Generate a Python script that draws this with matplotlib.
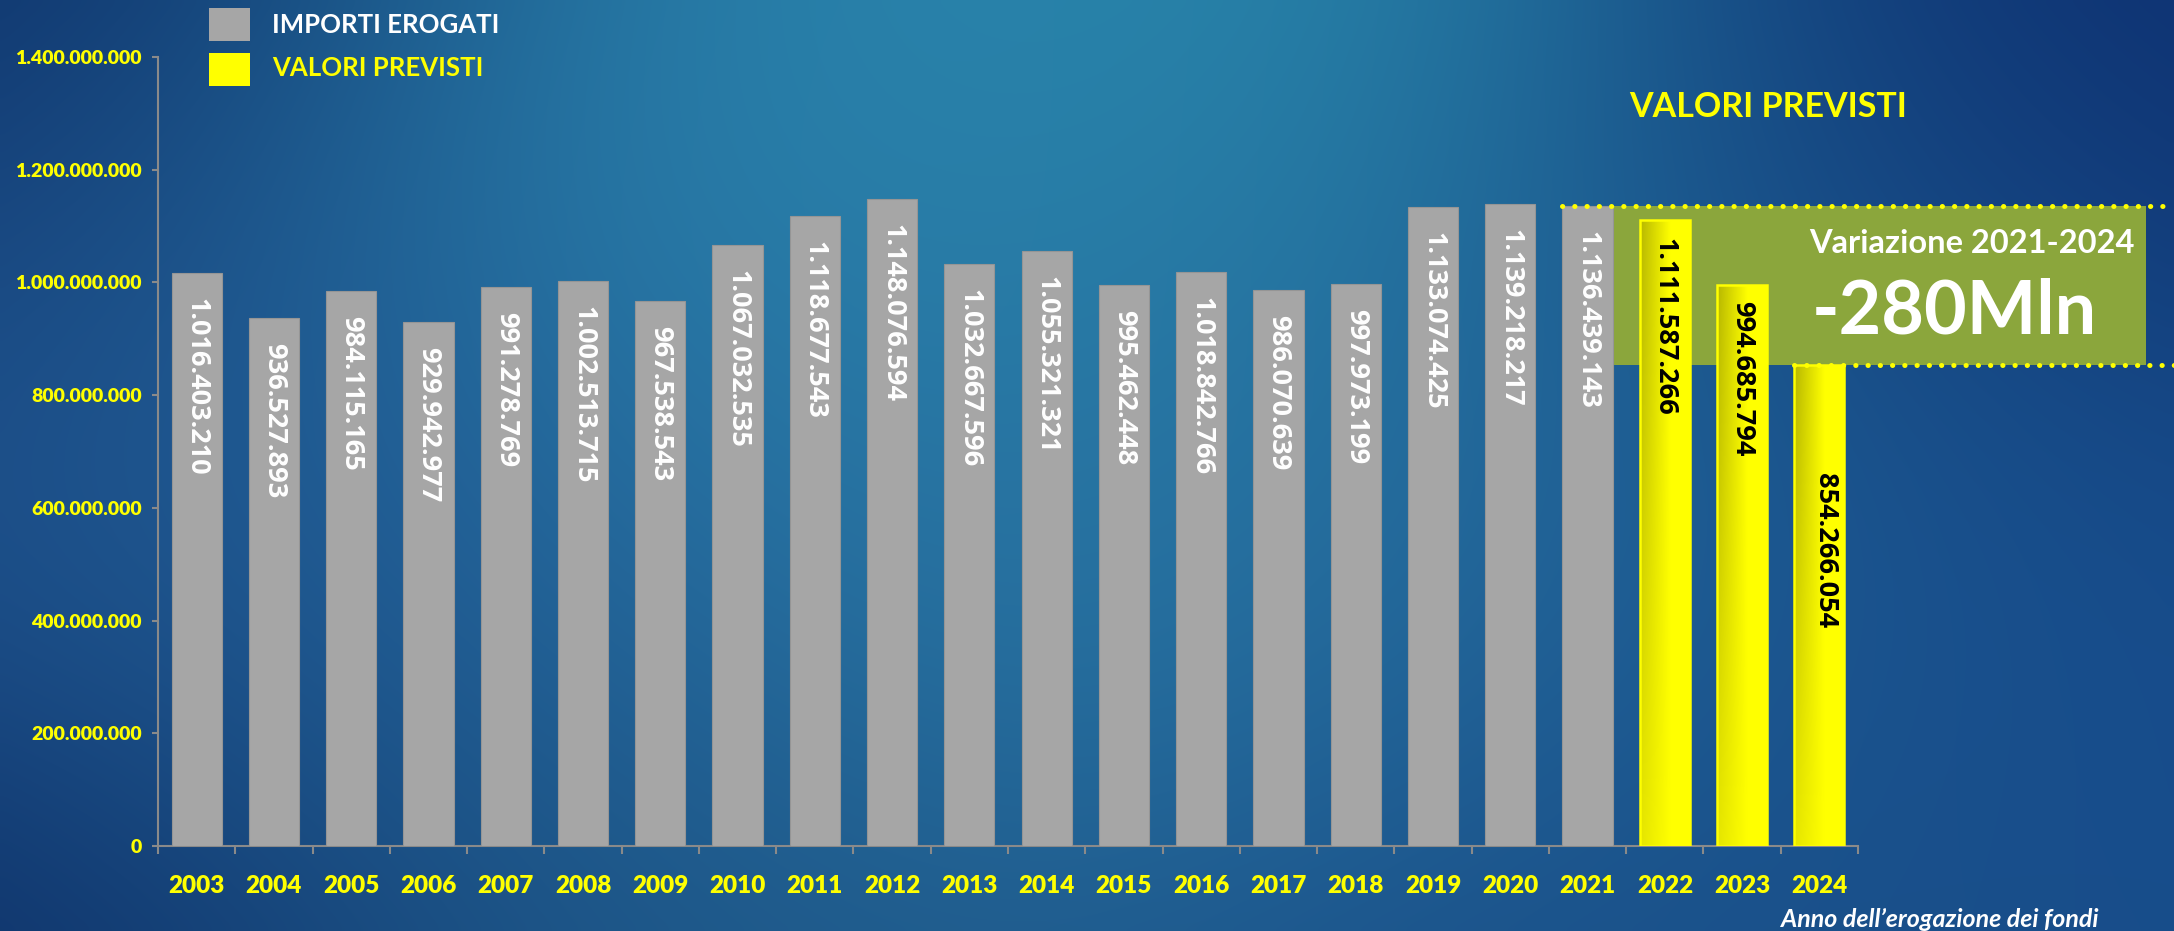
import matplotlib
matplotlib.use("Agg")
import matplotlib.pyplot as plt
import numpy as np
from matplotlib.patches import Rectangle

# Data
years = [str(y) for y in range(2003, 2025)]
importi = [1016403210, 936527893, 984115165, 929942977, 991278769, 1002513715,
           967538543, 1067032535, 1118677543, 1148076594, 1032667596, 1055321321,
           995462448, 1018842766, 986070639, 997973199, 1133074425, 1139218217,
           1136439143]
previsti = [1111587266, 994685794, 854266054]
y_ticks = [0, 200e6, 400e6, 600e6, 800e6, 1000e6, 1200e6, 1400e6]
y_labels = ['0', '200.000.000', '400.000.000', '600.000.000', '800.000.000',
            '1.000.000.000', '1.200.000.000', '1.400.000.000']

W, H = 2174, 931
YELLOW = '#ffff00'
GRAY = '#a6a6a6'


def fmt(v):
    return f"{v:,}".replace(",", ".")


def fx(px):
    return px / W


def fy(py):
    return 1 - py / H


def main():
    fig = plt.figure(figsize=(W / 100, H / 100), dpi=100)

    # background: smooth blend of sampled colours
    anchors = [
        (0.00, 0.00, '#0d2f68'), (0.00, 0.43, '#1c4a85'), (0.00, 1.00, '#0c2c64'),
        (0.30, 0.16, '#2a82ad'), (0.57, 0.10, '#2888ab'), (0.45, 0.50, '#2a78a5'),
        (0.29, 0.97, '#1f5a8a'), (0.98, 0.06, '#0c2c6e'), (0.97, 0.68, '#164b8c'),
        (0.75, 0.95, '#1a4f88'), (0.85, 0.30, '#174a85'), (0.15, 0.60, '#22609a'),
        (0.65, 0.55, '#2670a0'),
    ]
    gx, gy = np.meshgrid(np.linspace(0, 1, 300), np.linspace(0, 1, 130))
    num = np.zeros(gx.shape + (3,))
    den = np.zeros(gx.shape)
    for ax_, ay_, c in anchors:
        rgb = np.array(matplotlib.colors.to_rgb(c))
        w = np.exp(-(((gx - ax_) / 0.22) ** 2 + ((gy - ay_) / 0.35) ** 2))
        num += w[..., None] * rgb
        den += w
    img = num / den[..., None]
    bg = fig.add_axes([0, 0, 1, 1])
    bg.imshow(img, aspect='auto', extent=[0, 1, 0, 1], interpolation='bicubic')
    bg.axis('off')

    ax = fig.add_axes([fx(158), fy(846), fx(1858) - fx(158), fy(57) - fy(846)])
    ax.set_facecolor('none')
    ax.set_zorder(2)

    n_hist = len(importi)
    x_hist = np.arange(n_hist)
    x_prev = np.arange(n_hist, n_hist + len(previsti))
    bw = 0.65

    ax.bar(x_hist, importi, width=bw, color=GRAY, edgecolor='#959595',
           linewidth=0.8, zorder=3)
    bars_prev = ax.bar(x_prev, previsti, width=bw, color='#f0f000',
                       linewidth=0, zorder=3)
    # gradient fill for forecast bars
    for rect in bars_prev:
        x0, w_ = rect.get_x(), rect.get_width()
        h = rect.get_height()
        tx, ty = np.meshgrid(np.linspace(0, 1, 64), np.linspace(0, 1, 64))
        left = 0.90 - 0.18 * ty
        k = np.clip(left + (1 - left) * np.clip(tx / 0.6, 0, 1), 0, 1)
        grad = np.dstack([k, k, np.zeros_like(k)])
        im = ax.imshow(grad, extent=[x0, x0 + w_, 0, h], origin='lower',
                       aspect='auto', zorder=3.5, interpolation='bilinear')
        im.set_clip_path(rect)
    ax.bar(x_prev, previsti, width=bw, fill=False, edgecolor=YELLOW,
           linewidth=1.8, zorder=4)

    # bar value labels
    for x, v in zip(x_hist, importi):
        ax.annotate(fmt(v), xy=(x, v), xytext=(0, -18), textcoords='offset points',
                    rotation=-90, ha='center', va='top', color='white',
                    fontsize=19.5, fontweight='bold', family='Open Sans', zorder=5)
    prev_offsets = [(0, -13), (0, -11), (4, -78)]
    for x, v, off in zip(x_prev, previsti, prev_offsets):
        ax.annotate(fmt(v), xy=(x, v), xytext=off, textcoords='offset points',
                    rotation=-90, ha='center', va='top', color='black',
                    fontsize=19.5, fontweight='bold', family='Open Sans', zorder=5)

    ax.set_xlim(-0.5, len(years) - 0.5)
    ax.set_ylim(0, 1.4e9)

    # variation box behind the last bars
    px_per_cat = (1858 - 158) / len(years)
    x_box_l = n_hist - 1 - bw / 2
    x_box_r = len(years) - 0.5 + (2146 - 1858) / px_per_cat
    x_fig_r = len(years) - 0.5 + (W - 1858) / px_per_cat
    v21, v24 = importi[-1], previsti[-1]
    ax.add_patch(Rectangle((x_box_l, v24), x_box_r - x_box_l, v21 - v24,
                           facecolor='#8ba63c', edgecolor='none', zorder=1,
                           clip_on=False))
    dot = dict(color=YELLOW, linewidth=3.6, linestyle=(0, (0.05, 2.4)),
               dash_capstyle='round', clip_on=False, zorder=6)
    ax.plot([x_box_l, x_fig_r], [v21, v21], **dot)
    ax.plot([x_prev[-1] - bw / 2, x_fig_r], [v24, v24], **dot)

    # axes styling
    for s in ['top', 'right']:
        ax.spines[s].set_visible(False)
    for s in ['left', 'bottom']:
        ax.spines[s].set_color('#8a8a8a')
        ax.spines[s].set_linewidth(1.5)
    ax.set_yticks(y_ticks)
    ax.set_yticklabels(y_labels)
    ax.set_xticks(np.arange(len(years)))
    ax.set_xticklabels(years)
    ax.set_xticks(np.arange(len(years) + 1) - 0.5, minor=True)
    ax.tick_params(axis='y', length=4.5, width=1.5, color='#8a8a8a', pad=7)
    ax.tick_params(axis='x', which='major', length=0, pad=21)
    ax.tick_params(axis='x', which='minor', length=6, width=1.5, color='#8a8a8a')
    for lab in ax.get_yticklabels():
        lab.set(color=YELLOW, fontsize=14, fontweight='heavy', family='Lato')
    for lab in ax.get_xticklabels():
        lab.set(color=YELLOW, fontsize=17.5, fontweight='heavy', family='Lato')

    # legend
    fig.add_artist(Rectangle((fx(209), fy(41)), fx(41), 33 / H, facecolor=GRAY,
                             edgecolor='none', transform=fig.transFigure))
    fig.add_artist(Rectangle((fx(209), fy(86)), fx(41), 33 / H, facecolor=YELLOW,
                             edgecolor='none', transform=fig.transFigure))
    fig.text(fx(272), fy(33), 'IMPORTI EROGATI', color='white', fontsize=18.5,
             fontweight='bold', family='Lato', va='baseline')
    fig.text(fx(272), fy(76), 'VALORI PREVISTI', color=YELLOW, fontsize=18.5,
             fontweight='bold', family='Lato', va='baseline')

    # annotations
    fig.text(fx(1768), fy(107), 'VALORI PREVISTI', color=YELLOW, fontsize=24.5,
             fontweight='bold', family='Lato', ha='center', va='center')
    fig.text(fx(1809), fy(253), 'Variazione 2021-2024', color='white', fontsize=23.5,
             fontweight='bold', family='Lato', va='baseline', zorder=10)
    fig.text(fx(1812), fy(333), '-280Mln', color='white', fontsize=53,
             fontweight='bold', family='Lato', va='baseline', zorder=10)
    fig.text(fx(2098), fy(927), 'Anno dell\u2019erogazione dei fondi', color='white',
             fontsize=18, fontweight='bold', style='italic', family='Lato',
             ha='right', va='baseline')

    plt.savefig('out.png', dpi=100)


if __name__ == '__main__':
    main()
